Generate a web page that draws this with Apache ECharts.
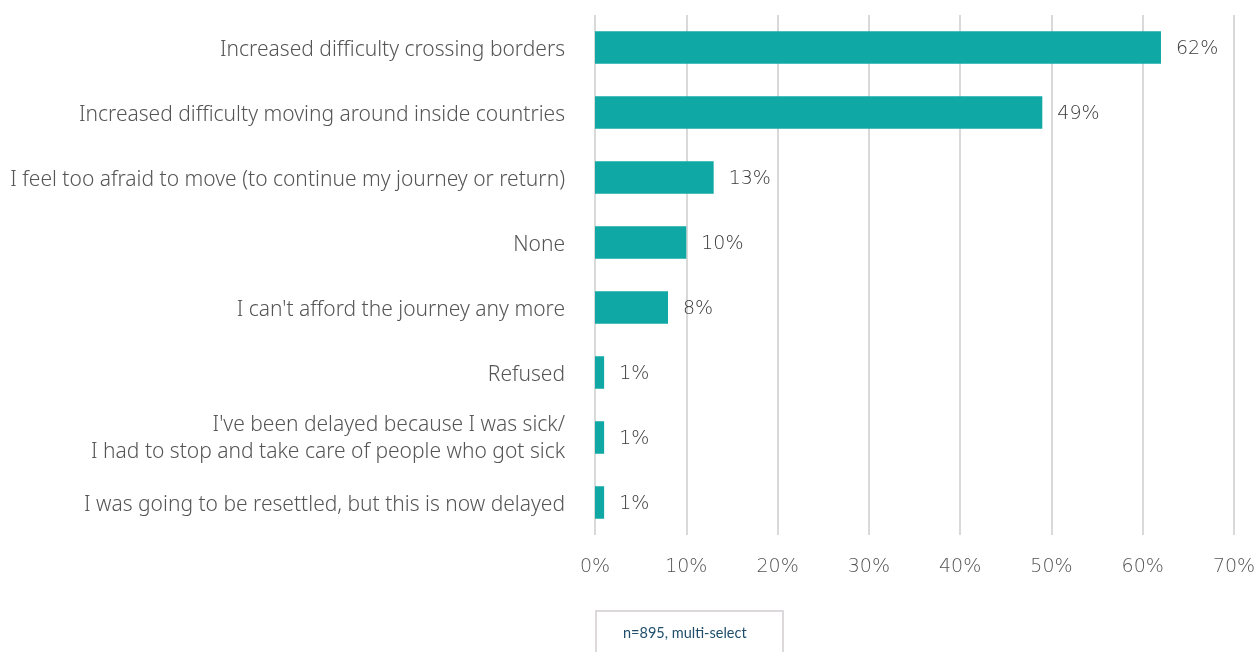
<!DOCTYPE html>
<html>
<head>
<meta charset="utf-8">
<script src="https://cdn.jsdelivr.net/npm/echarts@6/dist/echarts.min.js"></script>
<style>
  html, body { margin: 0; padding: 0; background: #ffffff; }
  #chart { width: 1259px; height: 652px; }
</style>
</head>
<body>
<div id="chart"></div>
<script>
// Reasons movement plans changed (share of respondents)
const categories = [
  "Increased difficulty crossing borders",
  "Increased difficulty moving around inside countries",
  "I feel too afraid to move (to continue my journey or return)",
  "None",
  "I can't afford the journey any more",
  "Refused",
  "I've been delayed because I was sick/\nI had to stop and take care of people who got sick",
  "I was going to be resettled, but this is now delayed"
];
const values = [62, 49, 13, 10, 8, 1, 1, 1];
const tickLabels = ["0%", "10%", "20%", "30%", "40%", "50%", "60%", "70%"];
const footnote = "n=895, multi-select";

const catText = { color: '#555555', fontFamily: 'Noto Sans', fontWeight: 300, fontSize: 21, lineHeight: 29, align: 'right' };

const chart = echarts.init(document.getElementById('chart'), null, { renderer: 'canvas' });

chart.setOption({
  backgroundColor: '#ffffff',
  animation: false,
  grid: { left: 595, right: 25, top: 15, bottom: 117, containLabel: false },
  xAxis: {
    type: 'value',
    min: 0,
    max: 70,
    interval: 10,
    axisLine: { show: false },
    axisTick: { show: false },
    splitLine: { show: true, lineStyle: { color: '#d9d9d9', width: 2 } },
    axisLabel: {
      margin: 23,
      color: '#555555',
      fontFamily: 'DejaVu Sans',
      fontWeight: 200,
      fontSize: 19,
      formatter: function (v) { return tickLabels[Math.round(v / 10)]; }
    }
  },
  yAxis: {
    type: 'category',
    inverse: true,
    data: categories,
    axisLine: { show: false },
    axisTick: { show: false },
    splitLine: { show: false },
    axisLabel: {
      margin: 30,
      align: 'right',
      formatter: function (v) {
        // first line gets a little top padding so the block sits slightly lower
        return v.split('\n').map(function (line, i) {
          return '{' + (i === 0 ? 'f' : 't') + '|' + line + '}';
        }).join('\n');
      },
      rich: {
        f: Object.assign({ padding: [5, 0, 0, 0] }, catText),
        t: Object.assign({}, catText)
      }
    }
  },
  series: [{
    type: 'bar',
    data: values,
    barCategoryGap: '50%',
    itemStyle: { color: '#0fa8a5' },
    label: {
      show: true,
      position: 'right',
      distance: 15,
      offset: [0, 2],
      color: '#3a3a3a',
      fontFamily: 'DejaVu Sans',
      fontWeight: 200,
      fontSize: 19,
      formatter: function (p) { return p.value + '%'; }
    }
  }],
  graphic: [
    {
      type: 'rect',
      left: 595,
      top: 610,
      shape: { width: 187, height: 60 },
      style: { fill: '#ffffff', stroke: '#dcd8dc', lineWidth: 2 }
    },
    {
      type: 'text',
      left: 623,
      top: 626,
      style: {
        text: footnote,
        fill: '#1f4e6b',
        font: '14.5px Lato'
      }
    }
  ]
});
</script>
</body>
</html>
